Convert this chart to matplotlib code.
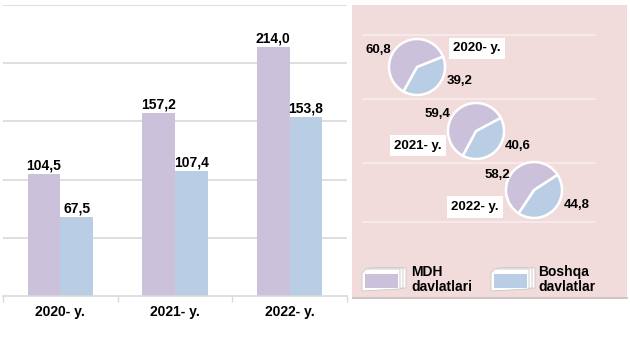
import matplotlib
matplotlib.use("Agg")
import matplotlib.pyplot as plt
from matplotlib.patches import Rectangle, Polygon
import numpy as np

plt.rcParams['font.family'] = ['Liberation Sans', 'DejaVu Sans']

# ---- data ----
years = ["2020- y.", "2021- y.", "2022- y."]
mdh_values = [104.5, 157.2, 214.0]
boshqa_values = [67.5, 107.4, 153.8]
mdh_share = [60.8, 59.4, 58.2]
boshqa_share = [39.2, 40.6, 44.8]
legend_labels = ["MDH\ndavlatlari", "Boshqa\ndavlatlar"]

c_mdh = "#CCC1DA"
c_bos = "#B9CDE5"

W, H = 630, 356
fig = plt.figure(figsize=(W / 100, H / 100), dpi=100)
fig.patch.set_facecolor("white")

def fmt(v):
    return f"{v:.1f}".replace(".", ",")

# ---- bar chart ----
ax = fig.add_axes([3 / W, (H - 295.7) / H, 344 / W, 290.5 / H])
x = np.arange(len(years))
bw = 0.285
b1 = ax.bar(x - bw / 2, mdh_values, bw, color=c_mdh, zorder=2)
b2 = ax.bar(x + bw / 2, boshqa_values, bw, color=c_bos, zorder=2)
for bars, vals in ((b1, mdh_values), (b2, boshqa_values)):
    for r, v in zip(bars, vals):
        ax.text(r.get_x() + r.get_width() / 2, v + 1.5, fmt(v), ha="center", va="bottom",
                fontsize=10, fontweight="bold", color="black", zorder=3)
ax.set_xlim(-0.5, 2.5)
ax.set_ylim(0, 250)
ax.set_yticks([50, 100, 150, 200, 250])
ax.yaxis.grid(True, color="#D9D9D9", linewidth=1.2)
ax.set_axisbelow(True)
ax.tick_params(axis="y", left=False, labelleft=False)
ax.set_xticks(x)
ax.set_xticklabels(years, fontsize=10, fontweight="bold")
ax.tick_params(axis="x", which="major", length=0, pad=7)
ax.set_xticks([-0.5, 0.5, 1.5, 2.5], minor=True)
ax.tick_params(axis="x", which="minor", length=4, color="#D9D9D9", width=1)
for s in ("top", "right", "left"):
    ax.spines[s].set_visible(False)
ax.spines["bottom"].set_color("#D9D9D9")
ax.spines["bottom"].set_linewidth(1.2)
ax.patch.set_alpha(0)

# ---- right panel (pixel coordinate overlay) ----
ov = fig.add_axes([0, 0, 1, 1])
ov.patch.set_alpha(0)

def Y(py):
    return H - py

ov.add_patch(Rectangle((352, Y(298.5)), 276, 1.5, facecolor="#D0C4C4", edgecolor="none", zorder=0))
ov.add_patch(Rectangle((352, Y(297)), 275, 292, facecolor="#F2DCDB", edgecolor="none", zorder=0))
for ly in (35, 99, 163, 222):
    ov.plot([363, 595], [Y(ly), Y(ly)], color="#F8ECEC", linewidth=1.2, zorder=1)

centers = [(417, 67), (476, 131), (534, 190)]
starts = [22, 28, 33]
radius = 28
for (cx, cy), st, m, b in zip(centers, starts, mdh_share, boshqa_share):
    wedges, _ = ov.pie([b, m], colors=[c_bos, c_mdh], startangle=st, counterclock=False,
                       center=(cx, Y(cy)), radius=radius, frame=True,
                       wedgeprops=dict(edgecolor="white", linewidth=1.8))
    for w in wedges:
        w.set_zorder(3)

lab_kw = dict(fontsize=9.5, fontweight="bold", color="black", zorder=5)
# 2020
ov.text(378, Y(50), fmt(mdh_share[0]), ha="center", va="center", **lab_kw)
ov.text(460, Y(81), fmt(boshqa_share[0]), ha="center", va="center", **lab_kw)
# 2021
ov.text(437, Y(114), fmt(mdh_share[1]), ha="center", va="center", **lab_kw)
ov.text(518, Y(146), fmt(boshqa_share[1]), ha="center", va="center", **lab_kw)
# 2022
ov.text(497, Y(175), fmt(mdh_share[2]), ha="center", va="center", **lab_kw)
ov.text(577, Y(205), fmt(boshqa_share[2]), ha="center", va="center", **lab_kw)

box_pos = [(477, 48.5), (418, 145.5), (475, 207)]
for (bx, by), yl in zip(box_pos, years):
    ov.text(bx, Y(by), yl, ha="center", va="center", fontsize=9.5, fontweight="bold",
            color="black", zorder=6,
            bbox=dict(boxstyle="square,pad=0.35", facecolor="white", edgecolor="none"))

# legend icons
def icon(x0, color):
    for dx in (6, 3):
        ov.add_patch(Polygon([(x0 + 4 + dx, Y(268)), (x0 + 38 + dx, Y(268)),
                              (x0 + 38 + dx, Y(288)), (x0 + dx, Y(290)), (x0 + dx, Y(272))],
                             closed=True, facecolor="white", edgecolor="#C8C8C8", linewidth=0.6, zorder=4))
    ov.add_patch(Polygon([(x0 + 4, Y(269)), (x0 + 38, Y(269)), (x0 + 38, Y(289)),
                          (x0, Y(291)), (x0, Y(273))], closed=True,
                         facecolor="white", edgecolor="#C8C8C8", linewidth=0.6, zorder=5))
    ov.add_patch(Rectangle((x0 + 3, Y(288)), 33, 14, facecolor=color, edgecolor="none", zorder=6))

icon(362, c_mdh)
icon(491, c_bos)
leg_kw = dict(fontsize=10, fontweight="bold", color="black", ha="left", va="center",
              linespacing=1.05, zorder=6)
ov.text(411, Y(279.5), legend_labels[0], **leg_kw)
ov.text(538, Y(279.5), legend_labels[1], **leg_kw)

ov.set_xlim(0, W)
ov.set_ylim(0, H)
ov.set_aspect("auto")
ov.axis("off")

fig.savefig("out.png", dpi=100)
